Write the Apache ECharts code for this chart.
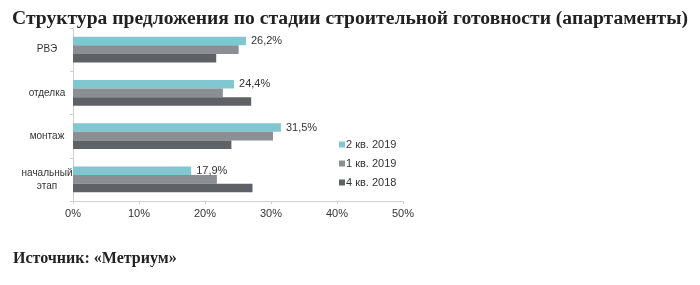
<!DOCTYPE html>
<html><head><meta charset="utf-8">
<script src="https://cdn.jsdelivr.net/npm/echarts@6/dist/echarts.min.js"></script>
<style>html,body{margin:0;padding:0;background:#fff}#c{width:700px;height:285px}</style>
</head><body><div id="c"></div>
<script>
const categories = ['РВЭ', 'отделка', 'монтаж', 'начальный\nэтап'];
const seriesNames = ['2 кв. 2019', '1 кв. 2019', '4 кв. 2018'];
const q2_2019 = [26.2, 24.4, 31.5, 17.9];
const q1_2019 = [25.1, 22.7, 30.3, 21.8];
const q4_2018 = [21.7, 27.0, 24.0, 27.2];
const xTicks = [0, 10, 20, 30, 40, 50];
const titleText = 'Структура предложения по стадии строительной готовности (апартаменты)';
const sourceText = 'Источник: «Метриум»';

const colors = ['#80c7d2', '#8b8e92', '#5e6267'];
const chart = echarts.init(document.getElementById('c'));
const data = [q2_2019, q1_2019, q4_2018];
chart.setOption({
  animation: false,
  title: [
    {text: titleText, left: 7, top: 4, textStyle: {fontFamily: 'Liberation Serif', fontWeight: 'bold', fontSize: 19.6, color: '#222'}},
    {text: sourceText, left: 8, top: 246, textStyle: {fontFamily: 'Liberation Serif', fontWeight: 'bold', fontSize: 16, color: '#222'}}
  ],
  legend: {
    orient: 'vertical', left: 334, top: 134, itemWidth: 6, itemHeight: 6, itemGap: 8,
    icon: 'rect', data: seriesNames,
    textStyle: {fontFamily: 'Liberation Sans', fontSize: 11, color: '#333', padding: [0, 0, 0, -4]}
  },
  grid: {left: 73, right: 297, top: 28, height: 173},
  xAxis: {
    type: 'value', min: xTicks[0], max: xTicks[xTicks.length - 1], interval: 10,
    axisLine: {show: true, lineStyle: {color: '#d0d0d0'}},
    axisTick: {show: true, length: 3, lineStyle: {color: '#d0d0d0'}},
    splitLine: {show: false},
    axisLabel: {formatter: v => v + '%', fontFamily: 'Liberation Sans', fontSize: 11, color: '#333', margin: 7}
  },
  yAxis: {
    type: 'category', data: categories, inverse: true,
    axisLine: {lineStyle: {color: '#d0d0d0'}},
    axisTick: {show: true, length: 3, lineStyle: {color: '#d0d0d0'}},
    axisLabel: {fontFamily: 'Liberation Sans', fontSize: 10, color: '#333', margin: 26, align: 'center', lineHeight: 13}
  },
  series: seriesNames.map((n, i) => ({
    name: n, type: 'bar', data: data[i], barGap: '0%', barCategoryGap: '40%',
    itemStyle: {color: colors[i]},
    label: i === 0 ? {show: true, position: 'right', distance: 5, fontFamily: 'Liberation Sans', fontSize: 11, color: '#333',
      formatter: p => p.value.toFixed(1).replace('.', ',') + '%'} : {show: false}
  }))
});
</script></body></html>
